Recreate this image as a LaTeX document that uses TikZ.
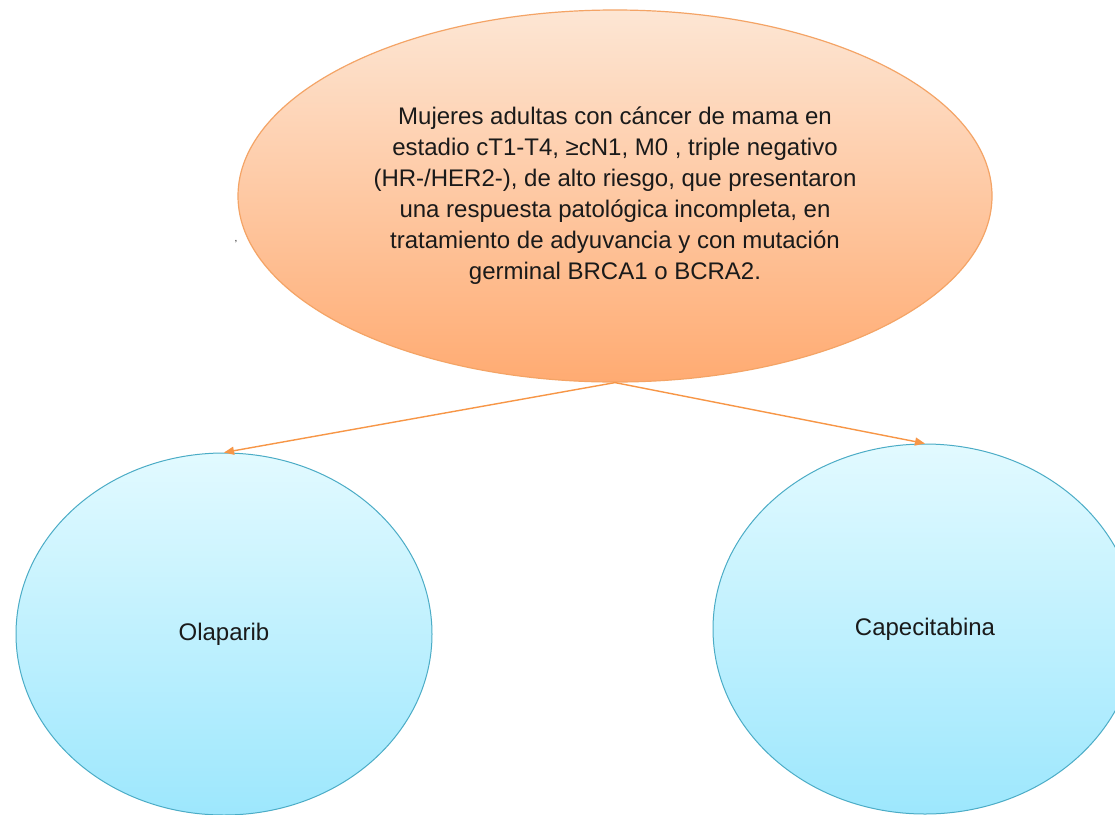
\documentclass[tikz,border=0pt]{standalone}
\usepackage{fontspec}
\setmainfont{Liberation Sans}
\usetikzlibrary{shapes.geometric,arrows.meta}
\definecolor{orBorder}{HTML}{F4A466}
\definecolor{orTop}{HTML}{FDE6D4}
\definecolor{orBot}{HTML}{FFAB72}
\definecolor{blBorder}{HTML}{4BACC6}
\definecolor{blTop}{HTML}{E2FAFF}
\definecolor{blBot}{HTML}{9DE7FD}
\definecolor{arrowOr}{HTML}{F79646}
\definecolor{txt}{HTML}{1A1A1A}
\tikzset{
  topell/.style={ellipse, draw=orBorder, line width=1.2pt, top color=orTop, bottom color=orBot,
    minimum width=754pt, minimum height=372pt, inner sep=0pt, align=center, text=txt,
    font=\fontsize{24pt}{31pt}\selectfont},
  drugell/.style={ellipse, draw=blBorder, line width=1pt, top color=blTop, bottom color=blBot,
    inner sep=0pt, text=txt, font=\fontsize{24pt}{29pt}\selectfont},
  conn/.style={draw=arrowOr, line width=1.4pt, -{Triangle[length=10pt,width=8pt]}}
}
\begin{document}
\begin{tikzpicture}[x=1pt,y=-1pt]
\useasboundingbox (0,0) rectangle (1115,814);
\fill[white] (0,0) rectangle (1115,814);
\node[topell] (pop) at (615,196) {Mujeres adultas con cáncer de mama en\\estadio cT1-T4, ≥cN1, M0 , triple negativo\\(HR-/HER2-), de alto riesgo, que presentaron\\una respuesta patológica incompleta, en\\tratamiento de adyuvancia y con mutación\\germinal BRCA1 o BCRA2.};
\node[drugell, minimum width=416pt, minimum height=362pt] (ola) at (224,634) {Olaparib};
\node[drugell, minimum width=424pt, minimum height=370pt] (cap) at (925,629) {Capecitabina};
\node[font=\fontsize{10pt}{12pt}\selectfont, text=txt] (comma) at (236,242) {,};
\draw[conn] (pop.south) -- (ola.north);
\draw[conn] (pop.south) -- (cap.north);
\end{tikzpicture}
\end{document}
